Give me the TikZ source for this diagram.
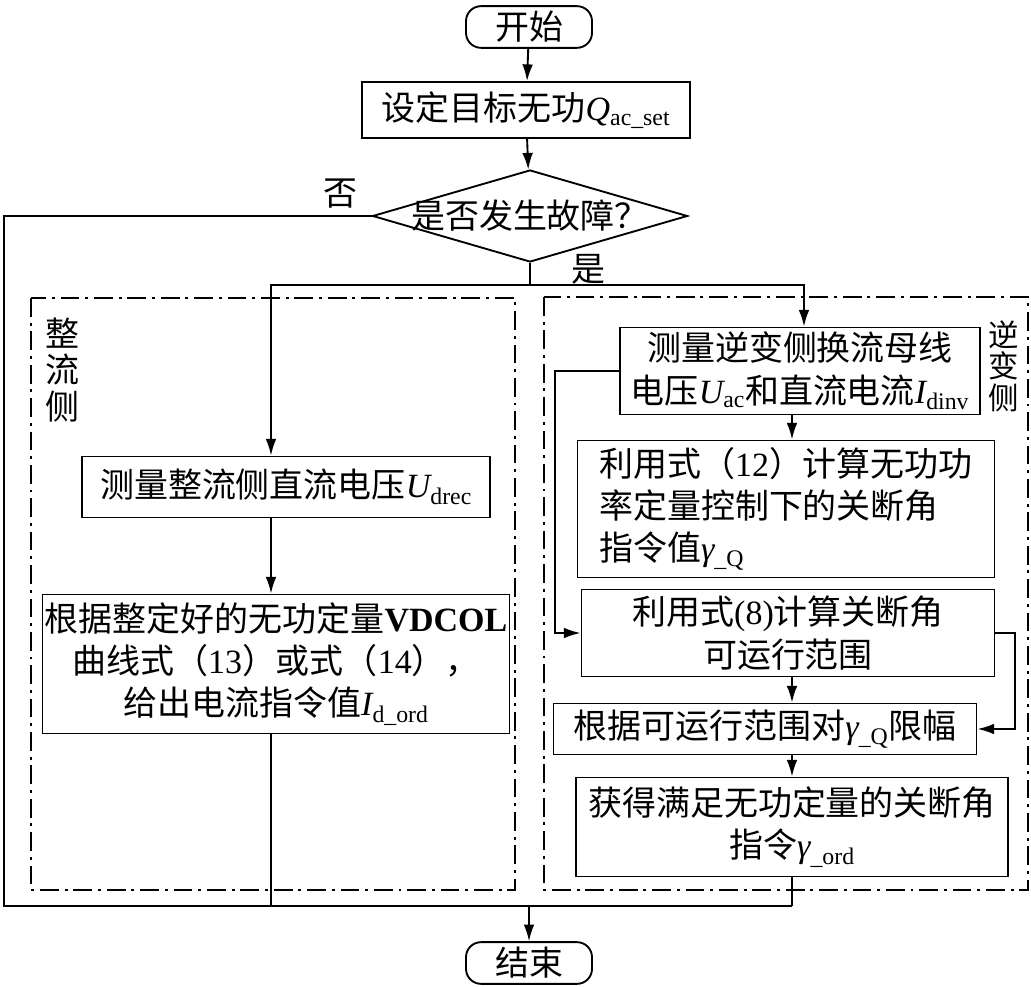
\documentclass[tikz,border=0pt]{standalone}
\usepackage{fontspec}
\setmainfont{Noto Sans CJK SC}
\newfontfamily\tnr{Liberation Serif}
\usetikzlibrary{arrows.meta,positioning,shapes.geometric,calc}
\newcommand{\vsub}[2]{{\tnr\itshape #1}\textsubscript{\tnr #2}}

\begin{document}
\begin{tikzpicture}[x=0.03cm, y=-0.03cm,
    every node/.style={font=\fontsize{29}{36}\selectfont},
    procbox/.style={rectangle, draw, line width=1.6pt, inner sep=0pt, align=center},
    termbox/.style={rectangle, rounded corners=0.45cm, draw, line width=1.6pt, minimum width=3.78cm, minimum height=1.25cm, inner sep=0pt},
    decbox/.style={diamond, draw, line width=1.6pt, inner sep=0pt, minimum width=9.45cm, minimum height=2.76cm},
    flow/.style={line width=1.6pt, -{Latex[length=5mm,width=3.2mm]}},
    line/.style={line width=1.6pt},
    region/.style={line width=1.2pt, dash pattern=on 16pt off 5pt on 2.5pt off 5pt},
    sidelbl/.style={align=center, inner sep=0pt},
    lbl/.style={inner sep=0pt}
]
\useasboundingbox (0,0) rectangle (1031,987);

% main column
\node[termbox] (start) at (529,27) {开始};
\node[procbox, minimum width=9.84cm, minimum height=1.68cm] (qset) at (526,110) {设定目标无功\vsub{Q}{ac\_set}};
\node[decbox] (fault) at (530,216) {\makebox[0pt]{是否发生故障？}};
\node[lbl] (no) at (340,194) {否};
\node[lbl] (yes) at (588,269) {是};

\coordinate (split) at (530,285);
\coordinate (lturn) at (271,285);
\coordinate (rturn) at (804,285);
\coordinate (lb) at (4,906);
\coordinate (join) at (529,906);
\coordinate (icol) at (792,906);
\coordinate (fbl) at (555,500);
\coordinate (fbr) at (1015,680);

% rectifier side
\draw[region] (31,298) rectangle (515,890);
\node[sidelbl, font=\fontsize{29}{31}\selectfont] (rlab) at (62,370) {整\\流\\侧};
\node[procbox, minimum width=12.24cm, minimum height=1.83cm] (rect1) at (286,487) {测量整流侧直流电压\vsub{U}{drec}};
\node[procbox, minimum width=14.01cm, minimum height=4.17cm] (rect2) at (276,664) {根据整定好的无功定量{\tnr\bfseries VDCOL}\\曲线式（{\tnr 13}）或式（{\tnr 14}），\\给出电流指令值\vsub{I}{d\_ord}};

% inverter side
\draw[region] (544,297) rectangle (1028,890);
\node[sidelbl, font=\fontsize{26}{27}\selectfont] (ilab) at (1004,366) {逆\\变\\侧};
\node[procbox, minimum width=10.8cm, minimum height=2.61cm] (inv1) at (800,371) {测量逆变侧换流母线\\电压\vsub{U}{ac}和直流电流\vsub{I}{dinv}};
\node[procbox, align=left, minimum width=12.51cm, minimum height=4.11cm] (inv2) at (786,509) {利用式（{\tnr 12}）计算无功功\\率定量控制下的关断角\\指令值\vsub{γ}{\_Q}};
\node[procbox, minimum width=12.39cm, minimum height=2.61cm] (inv3) at (788,633) {利用式{\tnr (8)}计算关断角\\可运行范围};
\node[procbox, minimum width=12.69cm, minimum height=1.53cm] (inv4) at (765,729) {根据可运行范围对\vsub{γ}{\_Q}限幅};
\node[procbox, minimum width=12.96cm, minimum height=2.97cm] (inv5) at (792,827) {获得满足无功定量的关断角\\指令\vsub{γ}{\_ord}};

\node[termbox] (end) at (529,963) {结束};

% connectors
\draw[flow] (start) -- (qset);
\draw[flow] (qset) -- (fault);
\draw[line] (fault.west) -| (lb) -- (icol);
\draw[line] (fault.south) -- (split);
\draw[flow] (split) -- (lturn) -- (lturn |- rect1.north);
\draw[flow] (split) -- (rturn) -- (rturn |- inv1.north);
\draw[flow] (lturn |- rect1.south) -- (lturn |- rect2.north);
\draw[line] (lturn |- rect2.south) -- (lturn |- lb);
\draw[flow] (inv1.south -| icol) -- (inv2.north -| icol);
\draw[flow] (inv3.south -| icol) -- (inv4.north -| icol);
\draw[flow] (inv4.south -| icol) -- (inv5.north -| icol);
\draw[line] (inv5.south -| icol) -- (icol);
\draw[flow] (inv1.west) -| (fbl) |- (inv3.west);
\draw[flow] (inv3.east) -| (fbr) |- (inv4.east);
\draw[flow] (join) -- (end);
\end{tikzpicture}
\end{document}
